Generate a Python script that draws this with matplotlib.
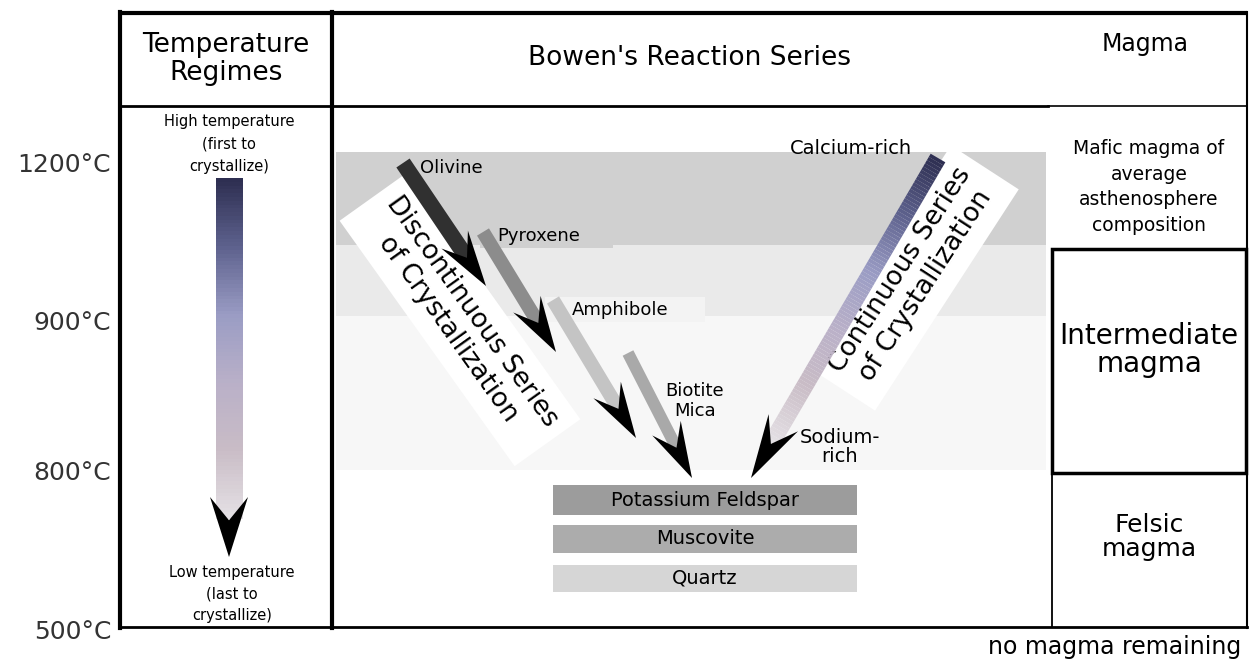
import numpy as np
import matplotlib.pyplot as plt
from matplotlib.patches import Polygon, Rectangle
from matplotlib.colors import LinearSegmentedColormap

# ---- content ----
temp_labels = ["1200°C", "900°C", "800°C", "500°C"]
temp_rows = [165, 323, 473, 632]

header_left = "Temperature\nRegimes"
header_mid = "Bowen's Reaction Series"
header_right = "Magma"

disc_minerals = ["Olivine", "Pyroxene", "Amphibole", "Biotite\nMica"]
disc_colors = ["#303030", "#8c8c8c", "#c4c4c4", "#a9a9a9"]
disc_width = [16, 14, 14, 12]
disc_start = [(403, 163), (483, 232), (553, 300), (628, 353)]
disc_tip = [(486, 286), (556, 352), (636, 438), (692, 478)]
disc_label_pos = [(420, 168), (497, 236), (572, 310), (695, 401)]

felsic_minerals = ["Potassium Feldspar", "Muscovite", "Quartz"]
felsic_colors = ["#9c9c9c", "#acacac", "#d6d6d6"]
felsic_rows = [(485, 515), (525, 553), (565, 592)]

magma_types = ["Mafic magma of\naverage\nasthenosphere\ncomposition",
               "Intermediate\nmagma", "Felsic\nmagma"]
magma_rows = [187, 350, 537]
magma_sizes = [13.5, 20, 18]
magma_spacing = [1.45, 1.0, 1.05]

bands = [(152, 245, "#d0d0d0"), (245, 316, "#eaeaea"), (316, 470, "#f7f7f7")]

temp_grad = LinearSegmentedColormap.from_list(
    "temp", ["#2e2f52", "#5e628e", "#9a9cc4", "#b9b0c8", "#c9bcc6", "#e4e0e4"])

plt.rcParams['font.family'] = ['DejaVu Sans']

fig = plt.figure(figsize=(12.54, 6.61), dpi=100)
ax = fig.add_axes([0, 0, 1, 1])
ax.set_xlim(0, 1254)
ax.set_ylim(661, 0)
ax.axis('off')


def arrow(p0, p1, width, colors, head_len, head_w, nseg=1, cmap=None, z=3):
    p0 = np.array(p0, float)
    p1 = np.array(p1, float)
    d = p1 - p0
    L = np.hypot(*d)
    u = d / L
    n = np.array([-u[1], u[0]])
    base = p1 - u * head_len
    shaft_end = base + u * head_len * 0.3
    for i in range(nseg):
        a = p0 + (shaft_end - p0) * i / nseg
        b = p0 + (shaft_end - p0) * (i + 1.02) / nseg
        c = colors if cmap is None else cmap(i / max(nseg - 1, 1))
        quad = [a + n * width / 2, b + n * width / 2, b - n * width / 2, a - n * width / 2]
        ax.add_patch(Polygon(quad, closed=True, fc=c, ec='none', zorder=z))
    # head with swept-back barbs and a notch
    notch = base + u * head_len * 0.32
    head = [p1, base + n * head_w / 2 - u * 6, notch, base - n * head_w / 2 - u * 6]
    ax.add_patch(Polygon(head, closed=True, fc='black', ec='none', zorder=z + 1))


# background bands
for y0, y1, c in bands:
    ax.add_patch(Rectangle((336, y0), 710, y1 - y0, fc=c, ec='none', zorder=1))
ax.add_patch(Rectangle((480, 240), 133, 8, fc=bands[0][2], ec='none', zorder=1))
ax.add_patch(Rectangle((545, 297), 160, 25, fc='#f3f3f3', ec='none', zorder=1))

# frame lines
ax.plot([120, 1247], [13, 13], color='black', lw=3, zorder=6, solid_capstyle='butt')
ax.plot([120, 120], [12, 628], color='black', lw=3, zorder=6)
ax.plot([332, 332], [12, 628], color='black', lw=3, zorder=6)
ax.plot([1247, 1247], [12, 628], color='black', lw=1.5, zorder=6)
ax.plot([120, 1048], [106, 106], color='black', lw=2, zorder=6)
ax.plot([1048, 1247], [106, 106], color='black', lw=1.2, zorder=6)
ax.plot([120, 1247], [627, 627], color='black', lw=2, zorder=6)
ax.plot([1052, 1052], [473, 627], color='black', lw=1.3, zorder=6)
ax.add_patch(Rectangle((1052, 249), 194, 224, fc='none', ec='black', lw=2.5, zorder=6))

# headers
ax.text(226, 59, header_left, ha='center', va='center', fontsize=19, linespacing=1.05)
ax.text(690, 58, header_mid, ha='center', va='center', fontsize=19)
ax.text(1145, 44, header_right, ha='center', va='center', fontsize=17)

# temperature ticks
for lab, y in zip(temp_labels, temp_rows):
    ax.text(111, y, lab, ha='right', va='center', fontsize=18, color='#333333')

# left column arrow
ax.text(229, 144, "High temperature\n(first to\ncrystallize)", ha='center', va='center',
        fontsize=10.5, linespacing=1.6)
ax.text(232, 594, "Low temperature\n(last to\ncrystallize)", ha='center', va='center',
        fontsize=10.5, linespacing=1.55)
arrow((229, 178), (229, 557), 27, None, 54, 38, nseg=90, cmap=temp_grad)

# discontinuous series
for c, w, s, t in zip(disc_colors, disc_width, disc_start, disc_tip):
    arrow(s, t, w, c, 50, 32)
for name, (x, y) in zip(disc_minerals, disc_label_pos):
    ax.text(x, y, name, ha='center' if '\n' in name else 'left', va='center',
            fontsize=13, zorder=5, linespacing=1.1)
ax.text(460, 320, "Discontinuous Series\nof Crystallization", rotation=-54.5,
        rotation_mode='anchor', ha='center', va='center', fontsize=19, linespacing=1.2,
        zorder=2, bbox=dict(fc='white', ec='none', pad=9))

# continuous series
ax.text(913, 278, "Continuous Series\nof Crystallization", rotation=57,
        rotation_mode='anchor', ha='center', va='center', fontsize=19, linespacing=1.2,
        zorder=2, bbox=dict(fc='white', ec='none', pad=9))
arrow((938, 158), (751, 478), 17, None, 58, 34, nseg=90, cmap=temp_grad)
ax.text(851, 148, "Calcium-rich", ha='center', va='center', fontsize=14, zorder=5)
ax.text(840, 447, "Sodium-\nrich", ha='center', va='center', fontsize=14, zorder=5,
        linespacing=1.0)

# felsic minerals
for name, c, (y0, y1) in zip(felsic_minerals, felsic_colors, felsic_rows):
    ax.add_patch(Rectangle((553, y0), 304, y1 - y0, fc=c, ec='none', zorder=2))
    ax.text(705, (y0 + y1) / 2, name, ha='center', va='center', fontsize=14, zorder=3)

# magma column
for txt, y, fs, ls in zip(magma_types, magma_rows, magma_sizes, magma_spacing):
    ax.text(1149, y, txt, ha='center', va='center', fontsize=fs, linespacing=ls)
ax.text(1241, 647, "no magma remaining", ha='right', va='center', fontsize=17)

fig.savefig("out.png", dpi=100)
